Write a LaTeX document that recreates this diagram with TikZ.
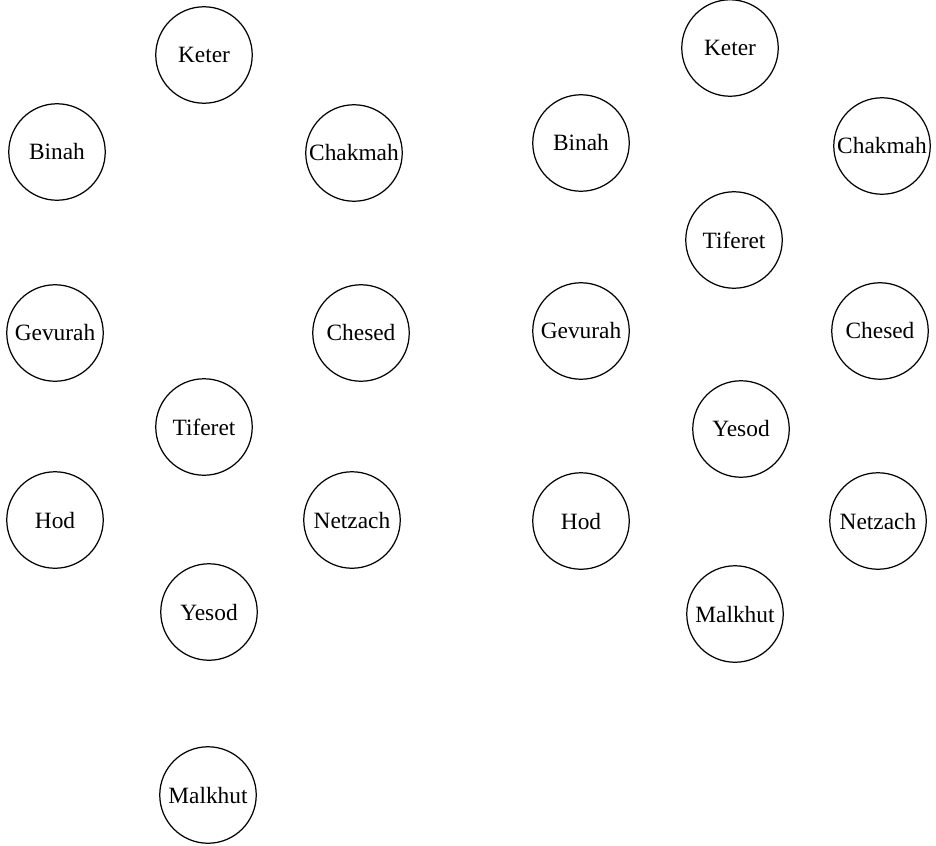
\documentclass[tikz,border=0pt]{standalone}
\usepackage{fontspec}
\setmainfont{Liberation Serif}
\usepackage{tikz}
\usetikzlibrary{positioning}

\begin{document}
\begin{tikzpicture}[
    x=0.02cm, y=-0.02cm,
    sefira/.style={circle, draw, line width=0.7pt, minimum size=1.93cm, inner sep=0pt, font=\fontsize{13.3}{15}\selectfont}
]
    \useasboundingbox (0,0) rectangle (936,845);

    % left tree
    \node[sefira] (lketer) at (204,55) {Keter};
    \node[sefira] (lbinah) at (57,152) {Binah};
    \node[sefira] (lchakmah) at (354,153) {Chakmah};
    \node[sefira] (lgevurah) at (55,333) {Gevurah};
    \node[sefira] (lchesed) at (361,333) {Chesed};
    \node[sefira] (ltiferet) at (204,427) {Tiferet};
    \node[sefira] (lhod) at (55,520) {Hod};
    \node[sefira] (lnetzach) at (352,520) {Netzach};
    \node[sefira] (lyesod) at (209,612) {Yesod};
    \node[sefira] (lmalkhut) at (208,795) {Malkhut};

    % right tree
    \node[sefira] (rketer) at (730,48) {Keter};
    \node[sefira] (rbinah) at (581,143) {Binah};
    \node[sefira] (rchakmah) at (882,146) {Chakmah};
    \node[sefira] (rtiferet) at (734,240) {Tiferet};
    \node[sefira] (rgevurah) at (581,331) {Gevurah};
    \node[sefira] (rchesed) at (880,331) {Chesed};
    \node[sefira] (ryesod) at (741,429) {Yesod};
    \node[sefira] (rhod) at (581,521) {Hod};
    \node[sefira] (rnetzach) at (878,521) {Netzach};
    \node[sefira] (rmalkhut) at (735,614) {Malkhut};
\end{tikzpicture}
\end{document}
